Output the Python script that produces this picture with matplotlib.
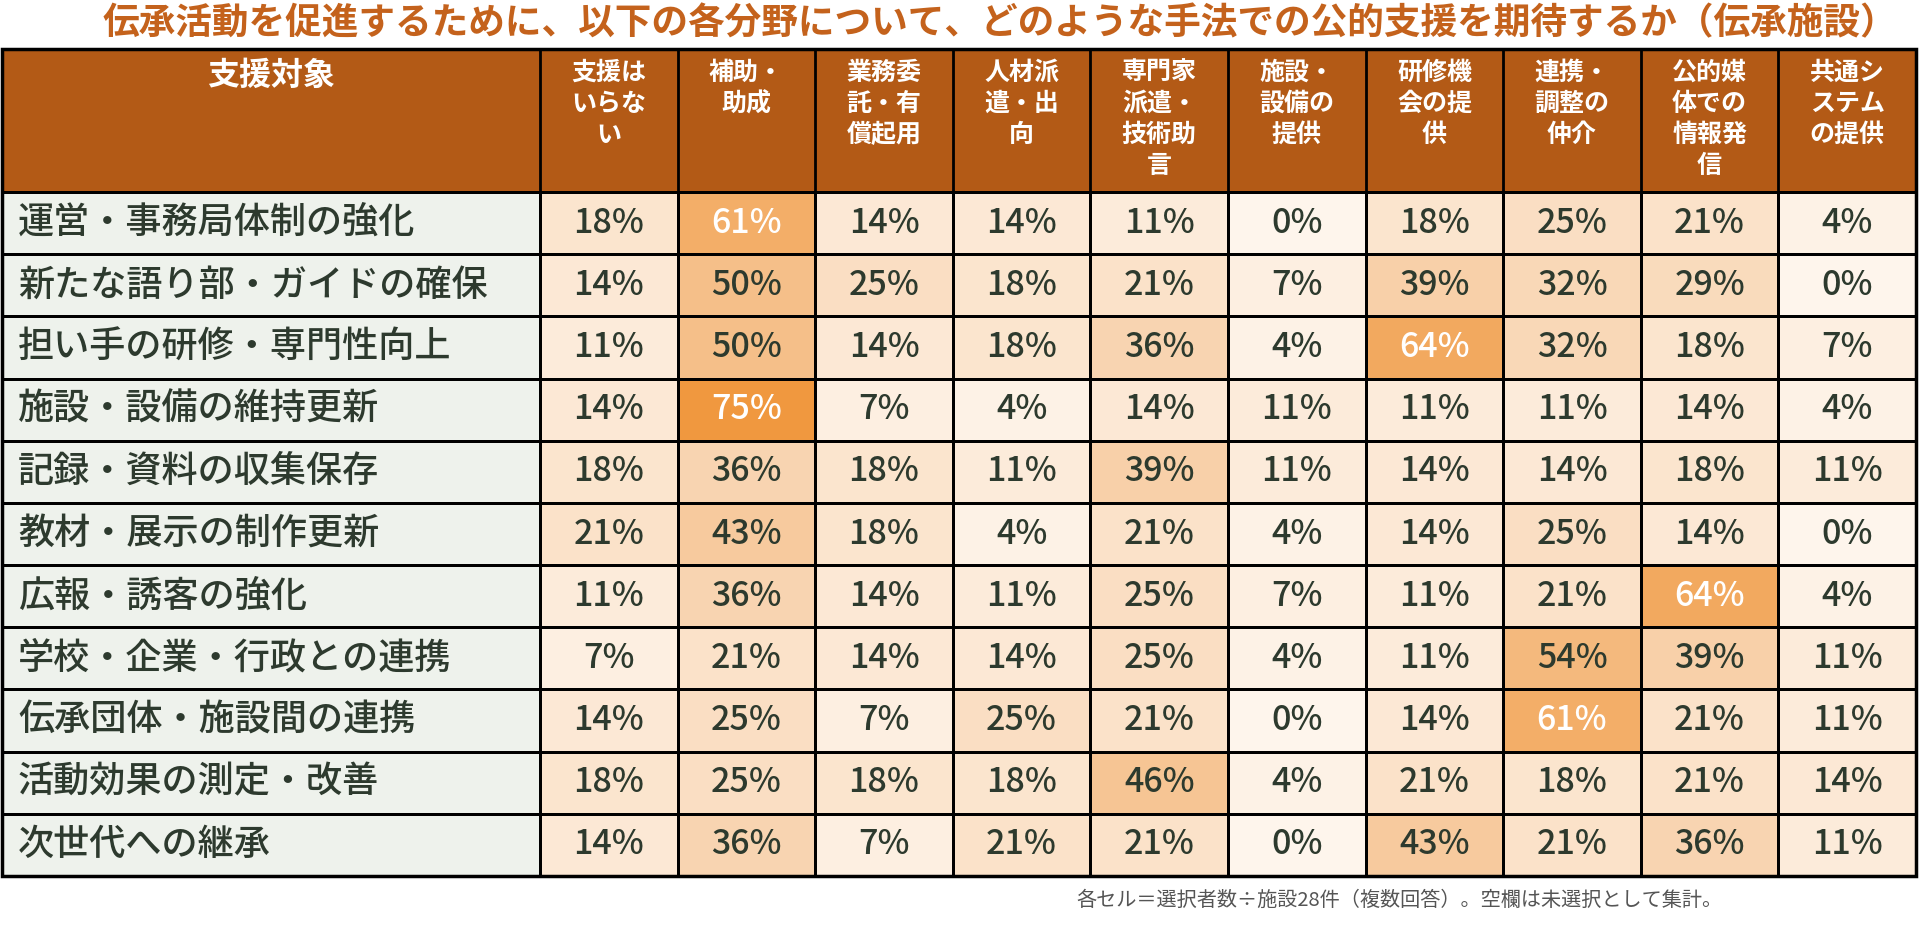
import numpy as np
import matplotlib
matplotlib.use("Agg")
import matplotlib.pyplot as plt
from matplotlib.colors import LinearSegmentedColormap, Normalize
from matplotlib.patches import Rectangle

plt.rcParams['font.family'] = ['Noto Sans CJK JP', 'DejaVu Sans']

# データ
title = "伝承活動を促進するために、以下の各分野について、どのような手法での公的支援を期待するか（伝承施設）"
footnote = "各セル＝選択者数÷施設28件（複数回答）。空欄は未選択として集計。"
row_header = "支援対象"
rows = ["運営・事務局体制の強化", "新たな語り部・ガイドの確保", "担い手の研修・専門性向上",
        "施設・設備の維持更新", "記録・資料の収集保存", "教材・展示の制作更新",
        "広報・誘客の強化", "学校・企業・行政との連携", "伝承団体・施設間の連携",
        "活動効果の測定・改善", "次世代への継承"]
cols = ["支援は\nいらな\nい", "補助・\n助成", "業務委\n託・有\n償起用", "人材派\n遣・出\n向",
        "専門家\n派遣・\n技術助\n言", "施設・\n設備の\n提供", "研修機\n会の提\n供",
        "連携・\n調整の\n仲介", "公的媒\n体での\n情報発\n信", "共通シ\nステム\nの提供"]
values = [
    [18, 61, 14, 14, 11, 0, 18, 25, 21, 4],
    [14, 50, 25, 18, 21, 7, 39, 32, 29, 0],
    [11, 50, 14, 18, 36, 4, 64, 32, 18, 7],
    [14, 75, 7, 4, 14, 11, 11, 11, 14, 4],
    [18, 36, 18, 11, 39, 11, 14, 14, 18, 11],
    [21, 43, 18, 4, 21, 4, 14, 25, 14, 0],
    [11, 36, 14, 11, 25, 7, 11, 21, 64, 4],
    [7, 21, 14, 14, 25, 4, 11, 54, 39, 11],
    [14, 25, 7, 25, 21, 0, 14, 61, 21, 11],
    [18, 25, 18, 18, 46, 4, 21, 18, 21, 14],
    [14, 36, 7, 21, 21, 0, 43, 21, 36, 11],
]

vals = np.array(values, dtype=float)
nrow, ncol = vals.shape

# レイアウト（ピクセル座標）
W, H = 1920, 930
left, first_w, right = 2, 540, 1916
top, head_bot, bottom = 49, 192, 876
xe = np.concatenate([[left], np.linspace(first_w, right, ncol + 1)])
ye = np.linspace(head_bot, bottom, nrow + 1)

header_c = "#B35A16"
label_bg = "#EEF2EC"
dark = "#2D3A2E"
cmap = LinearSegmentedColormap.from_list("or", ["#FEF5EC", "#F8D3AE", "#F0983F"])
norm = Normalize(0, 75)
lw = 2

fig = plt.figure(figsize=(19.2, 9.3), dpi=100)
ax = fig.add_axes([0, 0, 1, 1])
ax.set_xlim(0, W)
ax.set_ylim(H, 0)
ax.axis("off")

# タイトル
ax.text(1000, 24, title, ha="center", va="center", fontsize=26.4, fontweight="bold", color="#C4621C")

# ヘッダー
ax.add_patch(Rectangle((left, top), right - left, head_bot - top, facecolor=header_c,
                       edgecolor="black", lw=lw, zorder=1))
for x in xe[1:-1]:
    ax.plot([x, x], [top, head_bot], color="black", lw=lw, zorder=2)
ax.text((xe[0] + xe[1]) / 2, 76, row_header, ha="center", va="center", fontsize=23,
        fontweight="bold", color="white")
for j, c in enumerate(cols):
    ax.text((xe[j + 1] + xe[j + 2]) / 2, 61, c, ha="center", va="top", fontsize=18,
            fontweight="bold", color="white", linespacing=1.36)

# 行ラベル
ax.pcolormesh(xe[:2], ye, np.zeros((nrow, 1)), cmap=LinearSegmentedColormap.from_list("g", [label_bg, label_bg]),
              edgecolors="black", linewidth=lw)
for i, r in enumerate(rows):
    ax.text(xe[0] + 16, (ye[i] + ye[i + 1]) / 2, r, ha="left", va="center", fontsize=26,
            fontweight="medium", color=dark)

# 数値セル
ax.pcolormesh(xe[1:], ye, vals, cmap=cmap, norm=norm, edgecolors="black", linewidth=lw)
for i in range(nrow):
    for j in range(ncol):
        v = vals[i, j]
        ax.text((xe[j + 1] + xe[j + 2]) / 2, (ye[i] + ye[i + 1]) / 2, f"{v:.0f}%",
                ha="center", va="center", fontsize=24.5, fontweight="medium",
                color="white" if v >= 60 else dark)

ax.add_patch(Rectangle((left, top), right - left, bottom - top, fill=False,
                       edgecolor="black", lw=2.5, zorder=5))

# 注記
ax.text(1399, 900, footnote, ha="center", va="center", fontsize=14.5, color="#555555")

fig.savefig("out.png", dpi=100)
